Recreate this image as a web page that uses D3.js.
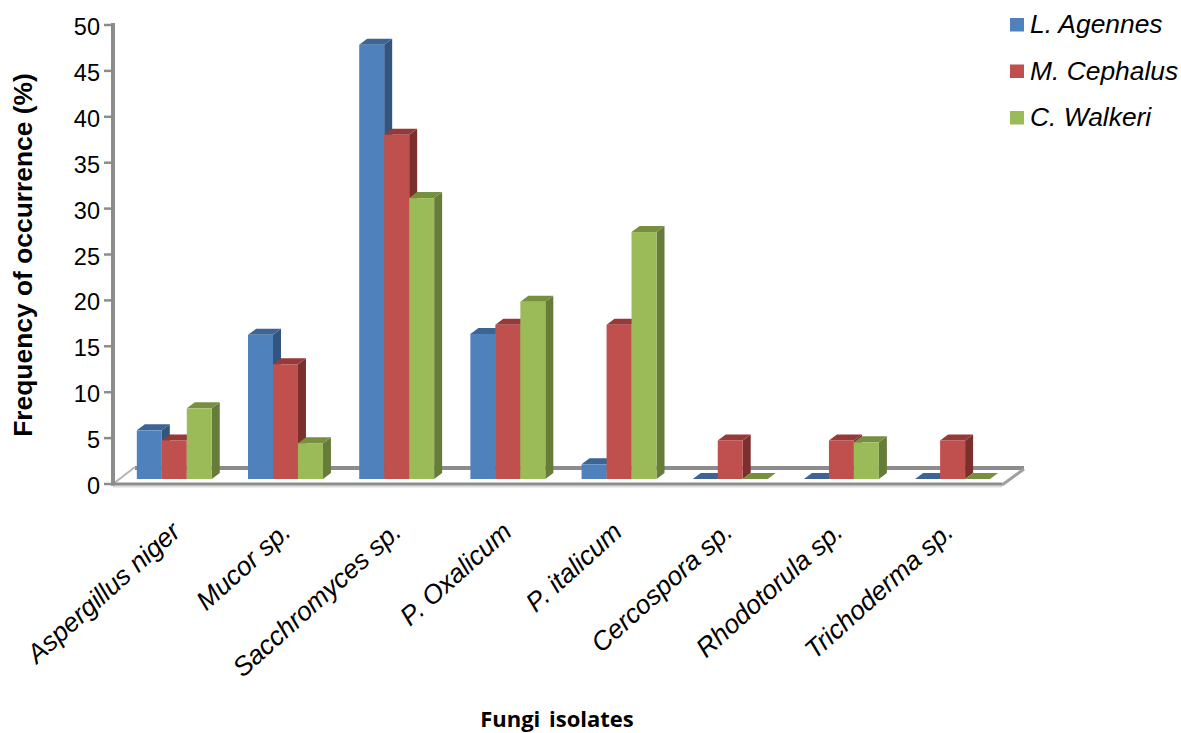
<!DOCTYPE html>
<html>
<head>
<meta charset="utf-8">
<script src="https://cdn.jsdelivr.net/npm/d3@7"></script>
<style>
  html, body { margin: 0; padding: 0; background: #fff; }
  svg { display: block; }
  text { font-family: "Liberation Sans", Arial, sans-serif; fill: #000; }
</style>
</head>
<body>
<svg id="chart" width="1181" height="733"></svg>
<script>
// Fungal isolates recovered from three fish species
const categories = ["Aspergillus niger", "Mucor sp.", "Sacchromyces sp.", "P. Oxalicum",
                    "P. italicum", "Cercospora sp.", "Rhodotorula sp.", "Trichoderma sp."];
const seriesNames = ["L. Agennes", "M. Cephalus", "C. Walkeri"];
const lAgennes  = [5.3, 15.7, 47.3, 15.8, 1.6, 0, 0, 0];
const mCephalus = [4.2, 12.5, 37.5, 16.8, 16.8, 4.2, 4.2, 4.2];
const cWalkeri  = [7.7, 3.9, 30.6, 19.3, 26.9, 0, 4.0, 0];
const seriesValues = [lAgennes, mCephalus, cWalkeri];
const yTicks = d3.range(0, 51, 5);

const frontColors = ["#4f81bd", "#c0504d", "#9bbb59"];
const topColors   = ["#3c6594", "#953a38", "#779040"];
const sideColors  = ["#325580", "#7c302e", "#667d3a"];

const svg = d3.select("#chart");
const y = d3.scaleLinear().domain([0, 50]).range([484, 25]);
const x = d3.scaleBand().domain(categories).range([118.7, 1008.2])
  .paddingInner(0.326).paddingOuter(0.163);
const xSeries = d3.scaleBand().domain(d3.range(3)).range([0, x.bandwidth()]);
const xLabelEnd = d3.scalePoint().domain(categories).range([182, 955]);

// Oblique offsets of the 3D projection
const floorDepth = { dx: 22, dy: -16 };
const barDepth = { dx: 8, dy: -6 };
const barLift = 5;          // bars stand slightly behind the front floor edge
const floorRight = 1002;
const axisGray = "#8c8c8c";

// Floor of the plot
const floorY = y(0);
const backY = floorY + floorDepth.dy;
const xLeft = 113;
svg.append("path")
  .attr("d", `M${xLeft + floorDepth.dx},${backY}H${floorRight + floorDepth.dx}`)
  .attr("stroke", axisGray).attr("stroke-width", 4).attr("fill", "none");
svg.append("path")
  .attr("d", `M${xLeft},${floorY}L${xLeft + floorDepth.dx},${backY - 1}`)
  .attr("stroke", "#b5b5b5").attr("stroke-width", 2).attr("fill", "none");
svg.append("path")
  .attr("d", `M${floorRight},${floorY + 1}L${floorRight + floorDepth.dx},${backY + 1}`)
  .attr("stroke", "#a0a0a0").attr("stroke-width", 3).attr("fill", "none");
svg.append("path")
  .attr("d", `M${xLeft},${floorY + 2.5}H${floorRight}`)
  .attr("stroke", "#dcdcdc").attr("stroke-width", 2).attr("fill", "none");
svg.append("path")
  .attr("d", `M${xLeft - 2},${floorY}H${floorRight}`)
  .attr("stroke", axisGray).attr("stroke-width", 3).attr("fill", "none");

// Vertical axis with outward ticks
const axisG = svg.append("g");
axisG.append("path")
  .attr("d", `M${xLeft},${y(50) - 2}V${floorY + 1.5}`)
  .attr("stroke", axisGray).attr("stroke-width", 4).attr("fill", "none");
axisG.selectAll("line").data(yTicks).join("line")
  .attr("x1", xLeft - 9).attr("x2", xLeft)
  .attr("y1", d => y(d)).attr("y2", d => y(d))
  .attr("stroke", axisGray).attr("stroke-width", 2.5);
axisG.selectAll("text").data(yTicks).join("text")
  .attr("x", 100).attr("y", d => y(d) + 10)
  .attr("text-anchor", "end").attr("font-size", 23.5)
  .text(d => d);

// Bars: side and top faces first, then the front face
const barBase = floorY - barLift;
const barHeightOf = v => y(0) - y(v);
categories.forEach((cat, i) => {
  seriesValues.forEach((vals, s) => {
    const x0 = x(cat) + xSeries(s);
    const x1 = x0 + xSeries.bandwidth();
    const top = barBase - barHeightOf(vals[i]);
    const { dx, dy } = barDepth;
    const g = svg.append("g");
    g.append("path")
      .attr("d", `M${x1},${top}L${x1 + dx},${top + dy}V${barBase + dy}L${x1},${barBase}Z`)
      .attr("fill", sideColors[s]);
    g.append("path")
      .attr("d", `M${x0},${top}L${x0 + dx},${top + dy}H${x1 + dx}L${x1},${top}Z`)
      .attr("fill", topColors[s]);
    g.append("rect")
      .attr("x", x0).attr("y", top)
      .attr("width", xSeries.bandwidth()).attr("height", barHeightOf(vals[i]))
      .attr("fill", frontColors[s]);
  });
});

// Slanted category labels
svg.selectAll("text.cat").data(categories).join("text")
  .attr("class", "cat")
  .attr("text-anchor", "end")
  .attr("font-size", 26.4)
  .attr("font-style", "italic")
  .attr("transform", d => `translate(${xLabelEnd(d)},${534}) rotate(-42)`)
  .text(d => d);

// Axis titles
svg.append("text")
  .attr("transform", "translate(32,255) rotate(-90)")
  .attr("text-anchor", "middle")
  .attr("font-size", 26.4)
  .attr("font-weight", "bold")
  .text("Frequency of occurrence (%)");
svg.append("text")
  .attr("x", 557).attr("y", 726.5)
  .attr("text-anchor", "middle")
  .attr("font-size", 22)
  .attr("font-weight", "bold")
  .style("font-family", '"Open Sans", sans-serif')
  .style("word-spacing", "3px")
  .text("Fungi isolates");

// Legend
const legendY = d3.scalePoint().domain(seriesNames).range([25, 118]);
const legend = svg.selectAll("g.legend").data(seriesNames).join("g")
  .attr("class", "legend")
  .attr("transform", d => `translate(1010,${legendY(d)})`);
legend.append("rect")
  .attr("x", 0).attr("y", -7).attr("width", 14).attr("height", 13.5)
  .attr("fill", (d, i) => frontColors[i]);
legend.append("text")
  .attr("x", 20).attr("y", 8)
  .attr("font-size", 26.4).attr("font-style", "italic")
  .text(d => d);
</script>
</body>
</html>
